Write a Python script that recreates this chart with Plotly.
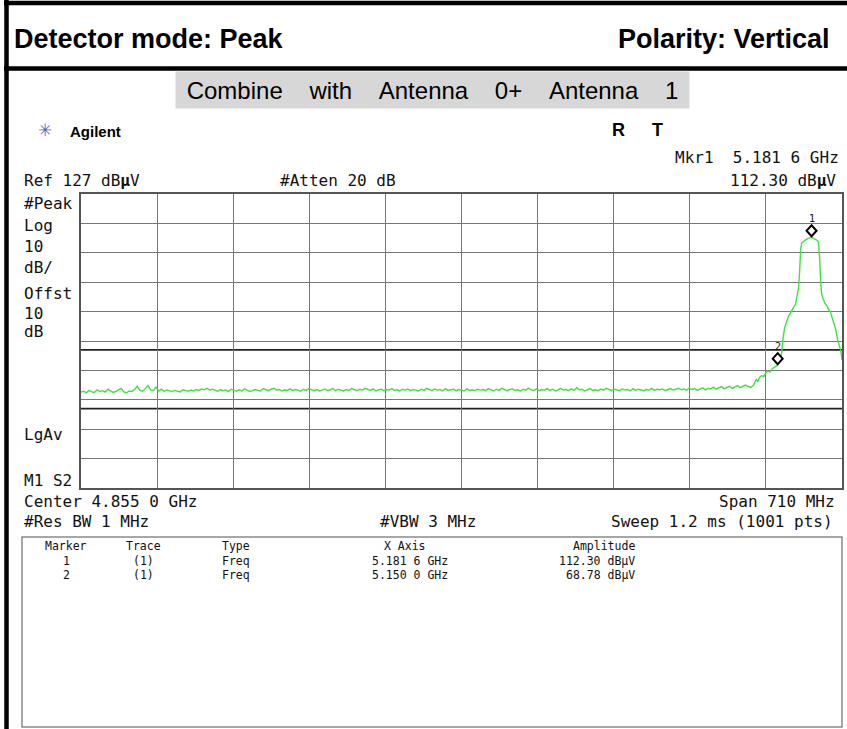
import plotly.graph_objects as go

# ---- sweep settings -------------------------------------------------------
center_mhz = 4855.0
span_mhz = 710.0
ref_level = 127.0          # dBuV, top of screen
db_per_div = 10.0
n_div = 10

# ---- measured trace (dBuV) -------------------------------------------------
# flat noise floor, 4500 MHz .. 5125 MHz in 2.5 MHz steps
floor_start_mhz = 4500.0
floor_step_mhz = 2.5
floor_levels = [
    59.6, 59.9, 59.4, 60.2, 59.7, 59.5, 60.4, 59.8, 60.1, 59.6, 60.6, 60.0, 59.5, 59.9, 60.3, 60.9, 59.7, 59.4, 60.0, 59.8, 60.5, 61.6, 60.2, 59.9, 60.8,
    61.9, 60.4, 60.1, 61.3, 60.0, 60.6, 59.9, 60.3, 60.1, 59.8, 60.2, 60.0, 59.7, 60.4, 60.1, 59.9, 60.3, 60.0, 60.5, 60.2, 60.7, 60.4, 60.9, 60.3, 60.6,
    60.2, 59.9, 60.5, 60.1, 60.3, 59.8, 60.6, 60.2, 59.9, 60.4, 60.0, 60.7, 60.3, 59.8, 60.1, 60.5, 60.2, 60.0, 60.8, 60.4, 60.1, 60.6, 60.9, 60.3, 60.5,
    60.0, 60.4, 60.2, 60.7, 60.1, 60.5, 60.3, 59.9, 60.6, 60.2, 60.8, 60.4, 60.1, 60.5, 60.0, 60.3, 60.7, 60.2, 60.4, 60.9, 60.1, 60.6, 60.3, 60.0, 60.5,
    60.2, 60.8, 60.4, 60.1, 60.6, 60.3, 60.9, 60.5, 60.2, 60.7, 60.0, 60.4, 60.6, 60.1, 60.5, 60.3, 60.8, 60.2, 60.4, 60.0, 60.6, 60.3, 60.7, 60.1, 60.5,
    60.3, 60.0, 60.6, 60.2, 60.9, 60.4, 60.1, 60.7, 60.3, 60.5, 60.0, 60.8, 60.2, 60.4, 60.6, 60.1, 60.5, 60.3, 60.0, 60.7, 60.2, 60.4, 60.1, 60.6, 60.3,
    60.5, 60.1, 60.8, 60.3, 60.0, 60.6, 60.2, 60.9, 60.4, 60.1, 60.5, 60.7, 60.2, 60.4, 60.0, 60.6, 60.3, 61.0, 60.4, 60.2, 60.7, 60.1, 60.5, 60.3, 60.8,
    60.2, 60.6, 60.0, 60.4, 60.9, 60.3, 60.5, 60.1, 60.7, 60.2, 61.1, 60.4, 60.6, 60.0, 60.5, 60.8, 60.2, 60.4, 60.1, 60.7, 60.3, 60.9, 60.5, 60.2, 60.6,
    60.4, 60.1, 60.7, 60.3, 60.5, 60.0, 60.8, 60.2, 60.6, 60.4, 60.1, 60.5, 60.3, 60.9, 60.2, 60.6, 60.4, 60.7, 60.1, 60.5, 60.8, 60.3, 60.6, 60.9, 60.4,
    60.7, 60.3, 61.0, 60.5, 60.8, 60.2, 60.6, 61.1, 60.4, 60.9, 60.7, 61.3, 60.6, 61.0, 61.5, 60.8, 61.2, 61.6, 60.9, 61.4, 61.8, 61.1, 61.5, 62.0, 61.6,
    61.2,
]

# band edge and in-band carrier
carrier_freq_mhz = [
    5127.5, 5130.0, 5131.5, 5133.0, 5135.0, 5137.0, 5139.0, 5141.0, 5143.0, 5145.0,
    5147.5, 5150.0, 5152.0, 5153.5, 5155.0, 5156.5, 5158.0, 5160.0, 5162.0, 5163.5,
    5165.0, 5166.5, 5168.0, 5169.5, 5170.5, 5171.5, 5172.5, 5174.0, 5176.0, 5178.0,
    5180.0, 5181.6, 5183.0, 5185.0, 5187.0, 5188.0, 5189.0, 5190.0, 5191.0, 5192.5,
    5194.0, 5196.0, 5197.5, 5199.0, 5200.0, 5202.0, 5204.0, 5206.0, 5207.5, 5209.0,
    5210.0,
]
carrier_levels = [
    61.9, 64.0, 63.2, 64.6, 65.2, 64.9, 66.3, 66.8, 66.5, 67.6,
    68.2, 68.78, 70.0, 72.4, 78.0, 81.5, 83.2, 85.4, 86.6, 87.9,
    88.6, 89.4, 91.8, 95.0, 101.0, 108.5, 110.4, 110.9, 111.4, 111.8,
    112.1, 112.30, 112.0, 111.7, 111.2, 110.6, 106.0, 98.0, 93.0, 91.2,
    89.9, 88.9, 87.6, 87.0, 85.9, 84.0, 81.2, 77.3, 75.0, 73.5,
    70.5,
]

# markers
marker_ids = ["1", "2"]
marker_freq_mhz = [5181.6, 5150.0]
marker_levels = [112.30, 68.78]

# display / limit lines (dBuV)
limit_lines = [74.0, 54.0]

# ---- derived -----------------------------------------------------------------
start_mhz = center_mhz - span_mhz / 2
stop_mhz = center_mhz + span_mhz / 2
bottom_level = ref_level - db_per_div * n_div

floor_freq_mhz = [floor_start_mhz + i * floor_step_mhz for i in range(len(floor_levels))]
trace_freq = floor_freq_mhz + carrier_freq_mhz
trace_level = floor_levels + carrier_levels

W, H = 847, 729


def X(px):
    return px / W


def Y(py):
    return 1 - py / H


def ghz_text(mhz):
    s = f"{mhz / 1000:.4f}"
    return s[:-1] + "\u00a0" + s[-1] + "\u00a0GHz"


MONO = "DejaVu Sans Mono"
SANS = "Liberation Sans, Arial, sans-serif"
NB = "\u00a0"

fig = go.Figure()

fig.add_trace(go.Scatter(
    x=trace_freq, y=trace_level, mode="lines",
    line=dict(color="#3ee23e", width=1.4),
    hoverinfo="skip", showlegend=False,
))

shapes = []
# limit lines
for lv in limit_lines:
    shapes.append(dict(type="line", xref="x", yref="y", x0=start_mhz, x1=stop_mhz,
                       y0=lv, y1=lv, line=dict(color="#222222", width=1.8), layer="below"))

# marker diamonds sitting on the trace points
for f, lv in zip(marker_freq_mhz, marker_levels):
    shapes.append(dict(type="path", xref="x", yref="y",
                       xsizemode="pixel", ysizemode="pixel",
                       xanchor=f, yanchor=lv,
                       path="M0,1 L5,6.5 L0,12 L-5,6.5 Z",
                       fillcolor="white", line=dict(color="black", width=2)))

# outer frame
shapes.append(dict(type="line", xref="paper", yref="paper", x0=X(6.5), x1=X(6.5), y0=Y(0), y1=Y(H),
                   line=dict(color="black", width=4.5)))
shapes.append(dict(type="line", xref="paper", yref="paper", x0=X(4), x1=X(W), y0=Y(3), y1=Y(3),
                   line=dict(color="black", width=4.5)))
shapes.append(dict(type="line", xref="paper", yref="paper", x0=X(4), x1=X(W), y0=Y(68.5), y1=Y(68.5),
                   line=dict(color="black", width=4.5)))
# marker table box
shapes.append(dict(type="rect", xref="paper", yref="paper", x0=X(22), x1=X(842), y0=Y(537), y1=Y(727),
                   line=dict(color="#8a8a8a", width=1.5)))

ann = []


def txt(x, y, s, size=16, anchor="left", family=MONO, color="#111111", **kw):
    ann.append(dict(x=X(x), y=Y(y), xref="paper", yref="paper", text=s, showarrow=False,
                    xanchor=anchor, yanchor="middle",
                    font=dict(family=family, size=size, color=color), **kw))


# header
txt(12, 39, "<b>Detector mode: Peak</b>", size=27, family=SANS, color="black")
txt(832, 39, "<b>Polarity: Vertical</b>", size=27, family=SANS, color="black", anchor="right")
gap = NB * 4
txt(432.5, 90, f"Combine{gap}with{gap}Antenna{gap}0+{gap}Antenna{gap}1", size=24, family=SANS,
    color="black", anchor="center", bgcolor="#d7d7d7", width=511, height=34)

# instrument banner
txt(45, 130, "\u2733", size=17, family="DejaVu Sans", color="#5a64c8", anchor="center")
txt(68, 131, "<b>Agilent</b>", size=15, family=SANS, color="black")
txt(618, 130, "<b>R</b>", size=18, family=SANS, color="black", anchor="center")
txt(657, 130, "<b>T</b>", size=18, family=SANS, color="black", anchor="center")

txt(841, 157, f"Mkr{marker_ids[0]}{NB}{NB}{ghz_text(marker_freq_mhz[0])}", anchor="right")
txt(22, 180, f"Ref{NB}{ref_level:.0f}{NB}dB<b>\u00b5</b>V")
txt(278, 180, f"#Atten{NB}20{NB}dB")
txt(838, 180, f"{marker_levels[0]:.2f}{NB}dB<b>\u00b5</b>V", anchor="right")

for yy, s in [(203, "#Peak"), (225, "Log"), (247, f"{db_per_div:.0f}"), (268, "dB/"),
              (293, "Offst"), (313, "10"), (331, "dB"), (434, "LgAv"), (480, f"M1{NB}S2")]:
    txt(22, yy, s)

txt(22, 501, f"Center{NB}{center_mhz / 1000:.3f}{NB}{round(center_mhz % 1 * 10):d}{NB}GHz")
txt(837, 501, f"Span{NB}{span_mhz:.0f}{NB}MHz", anchor="right")
txt(22, 521, f"#Res{NB}BW{NB}1{NB}MHz")
txt(478, 521, f"#VBW{NB}3{NB}MHz", anchor="right")
txt(835, 521, f"Sweep{NB}1.2{NB}ms{NB}(1001{NB}pts)", anchor="right")

# marker labels on the screen
for mid, f, lv in zip(marker_ids, marker_freq_mhz, marker_levels):
    ann.append(dict(x=f, y=lv, xref="x", yref="y", text=mid, showarrow=False, yshift=19,
                    font=dict(family=MONO, size=10, color="#111111")))

# marker table
TS = 11.5
ROW0 = 546
ROW_STEP = 14.5
txt(66, ROW0, "Marker", size=TS, anchor="center")
txt(143, ROW0, "Trace", size=TS, anchor="center")
txt(220, ROW0, "Type", size=TS)
txt(405, ROW0, f"X{NB}Axis", size=TS, anchor="center")
txt(604, ROW0, "Amplitude", size=TS, anchor="center")
for i, (mid, f, lv) in enumerate(zip(marker_ids, marker_freq_mhz, marker_levels)):
    yy = ROW0 + ROW_STEP * (i + 1)
    txt(66, yy, mid, size=TS, anchor="center")
    txt(143, yy, "(1)", size=TS, anchor="center")
    txt(220, yy, "Freq", size=TS)
    txt(410, yy, ghz_text(f), size=TS, anchor="center")
    txt(637, yy, f"{lv:.2f}{NB}dB\u00b5V", size=TS, anchor="right")

fig.update_layout(
    width=W, height=H,
    margin=dict(l=0, r=0, t=0, b=0),
    paper_bgcolor="white", plot_bgcolor="white",
    showlegend=False,
    shapes=shapes, annotations=ann,
    xaxis=dict(domain=[X(81), X(842)], range=[start_mhz, stop_mhz],
               tick0=start_mhz, dtick=span_mhz / 10, showticklabels=False, ticks="",
               showgrid=True, gridcolor="#777777", gridwidth=1, zeroline=False,
               showline=True, linecolor="#555555", linewidth=2, mirror=True, fixedrange=True),
    yaxis=dict(domain=[Y(488), Y(194)], range=[bottom_level, ref_level],
               tick0=bottom_level, dtick=db_per_div, showticklabels=False, ticks="",
               showgrid=True, gridcolor="#777777", gridwidth=1, zeroline=False,
               showline=True, linecolor="#555555", linewidth=2, mirror=True, fixedrange=True),
)

fig.write_html("out.html")
